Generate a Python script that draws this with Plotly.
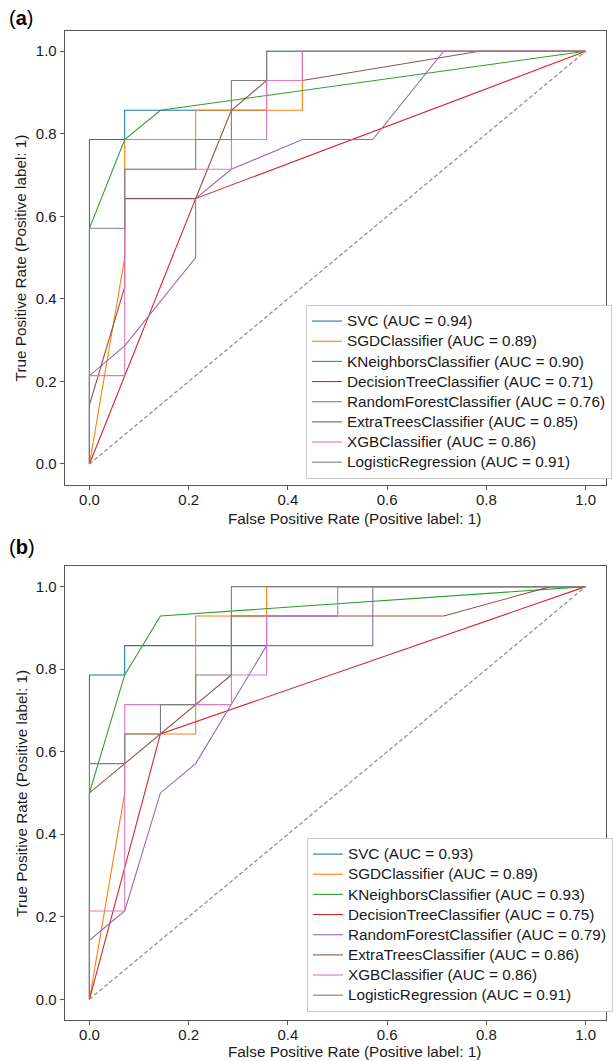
import plotly.graph_objects as go

FONT = "Liberation Sans, Arial, Helvetica, sans-serif"

models = ["SVC", "SGDClassifier", "KNeighborsClassifier", "DecisionTreeClassifier",
          "RandomForestClassifier", "ExtraTreesClassifier", "XGBClassifier", "LogisticRegression"]
colors = ["#1f77b4", "#ff7f0e", "#2ca02c", "#d62728", "#9467bd", "#8c564b", "#e377c2", "#7f7f7f"]

auc_a = [0.94, 0.89, 0.90, 0.71, 0.76, 0.85, 0.86, 0.91]
auc_b = [0.93, 0.89, 0.93, 0.75, 0.79, 0.86, 0.86, 0.91]

# ---- panel (a) ----
svc_fpr_a = [0, 0, 0.071, 0.071, 0.357, 0.357, 1]
svc_tpr_a = [0, 0.786, 0.786, 0.857, 0.857, 1, 1]
sgd_fpr_a = [0, 0.071, 0.071, 0.214, 0.214, 0.429, 0.429, 1]
sgd_tpr_a = [0, 0.5, 0.786, 0.786, 0.857, 0.857, 1, 1]
knn_fpr_a = [0, 0, 0.071, 0.143, 1]
knn_tpr_a = [0, 0.571, 0.786, 0.857, 1]
dt_fpr_a = [0, 0.214, 1]
dt_tpr_a = [0, 0.643, 1]
rf_fpr_a = [0, 0, 0.071, 0.214, 0.214, 0.286, 0.429, 0.571, 0.714, 1]
rf_tpr_a = [0, 0.214, 0.286, 0.5, 0.643, 0.714, 0.786, 0.786, 1, 1]
et_fpr_a = [0, 0, 0.071, 0.071, 0.214, 0.286, 0.357, 0.429, 0.786, 1]
et_tpr_a = [0, 0.143, 0.429, 0.643, 0.643, 0.857, 0.929, 0.929, 1, 1]
xgb_fpr_a = [0, 0, 0.071, 0.071, 0.286, 0.286, 0.357, 0.357, 0.429, 0.429, 1]
xgb_tpr_a = [0, 0.214, 0.214, 0.714, 0.714, 0.786, 0.786, 0.929, 0.929, 1, 1]
lr_fpr_a = [0, 0, 0.071, 0.071, 0.214, 0.214, 0.286, 0.286, 0.357, 0.357, 1]
lr_tpr_a = [0, 0.571, 0.571, 0.714, 0.714, 0.786, 0.786, 0.929, 0.929, 1, 1]

# ---- panel (b) ----
svc_fpr_b = [0, 0, 0.071, 0.071, 0.357, 0.357, 0.5, 0.5, 1]
svc_tpr_b = [0, 0.786, 0.786, 0.857, 0.857, 0.929, 0.929, 1, 1]
sgd_fpr_b = [0, 0.071, 0.071, 0.214, 0.214, 0.357, 0.357, 1]
sgd_tpr_b = [0, 0.5, 0.643, 0.643, 0.929, 0.929, 1, 1]
knn_fpr_b = [0, 0, 0.071, 0.143, 1]
knn_tpr_b = [0, 0.5, 0.786, 0.929, 1]
dt_fpr_b = [0, 0.143, 1]
dt_tpr_b = [0, 0.643, 1]
rf_fpr_b = [0, 0, 0.071, 0.143, 0.214, 0.357, 0.571, 0.571, 1]
rf_tpr_b = [0, 0.143, 0.214, 0.5, 0.571, 0.857, 0.857, 1, 1]
et_fpr_b = [0, 0, 0.286, 0.286, 0.714, 0.929, 1]
et_tpr_b = [0, 0.5, 0.786, 0.929, 0.929, 1, 1]
xgb_fpr_b = [0, 0, 0.071, 0.071, 0.286, 0.286, 0.357, 0.357, 0.5, 0.5, 1]
xgb_tpr_b = [0, 0.214, 0.214, 0.714, 0.714, 0.786, 0.786, 0.929, 0.929, 1, 1]
lr_fpr_b = [0, 0, 0.071, 0.071, 0.143, 0.143, 0.214, 0.214, 0.286, 0.286, 1]
lr_tpr_b = [0, 0.571, 0.571, 0.643, 0.643, 0.714, 0.714, 0.786, 0.786, 1, 1]

chance_x = [0, 1]
chance_y = [0, 1]

tick_vals = [0.0, 0.2, 0.4, 0.6, 0.8, 1.0]
tick_text = ["0.0", "0.2", "0.4", "0.6", "0.8", "1.0"]

curves_a = [(svc_fpr_a, svc_tpr_a), (sgd_fpr_a, sgd_tpr_a), (knn_fpr_a, knn_tpr_a), (dt_fpr_a, dt_tpr_a),
            (rf_fpr_a, rf_tpr_a), (et_fpr_a, et_tpr_a), (xgb_fpr_a, xgb_tpr_a), (lr_fpr_a, lr_tpr_a)]
curves_b = [(svc_fpr_b, svc_tpr_b), (sgd_fpr_b, sgd_tpr_b), (knn_fpr_b, knn_tpr_b), (dt_fpr_b, dt_tpr_b),
            (rf_fpr_b, rf_tpr_b), (et_fpr_b, et_tpr_b), (xgb_fpr_b, xgb_tpr_b), (lr_fpr_b, lr_tpr_b)]

LEG_TXT = 15.3  # rendered legend text size


def label(name, auc):
    return f'<span style="font-size:{LEG_TXT}px">{name} (AUC = {auc:.2f})</span>'


fig = go.Figure()

for (fx, ty), name, col, auc in zip(curves_a, models, colors, auc_a):
    fig.add_trace(go.Scatter(x=fx, y=ty, mode="lines", name=label(name, auc),
                             line=dict(color=col, width=1.1), xaxis="x", yaxis="y", legend="legend"))
fig.add_trace(go.Scatter(x=chance_x, y=chance_y, mode="lines", showlegend=False,
                         line=dict(color="#9c8e8a", width=1.3, dash="4px,2.5px"), xaxis="x", yaxis="y"))

for (fx, ty), name, col, auc in zip(curves_b, models, colors, auc_b):
    fig.add_trace(go.Scatter(x=fx, y=ty, mode="lines", name=label(name, auc),
                             line=dict(color=col, width=1.1), xaxis="x2", yaxis="y2", legend="legend2"))
fig.add_trace(go.Scatter(x=chance_x, y=chance_y, mode="lines", showlegend=False,
                         line=dict(color="#9c8e8a", width=1.3, dash="4px,2.5px"), xaxis="x2", yaxis="y2"))

W, H = 613, 1061
XDOM = [65.3 / W, 612 / W]
YDOM_A = [1 - 484.6 / H, 1 - 30.6 / H]
YDOM_B = [1 - 1019.9 / H, 1 - 566 / H]

axis_common = dict(
    showline=True, mirror=True, linecolor="#555555", linewidth=1,
    ticks="outside", ticklen=4, tickwidth=1, tickcolor="#555555",
    showgrid=False, zeroline=False, automargin=False,
    tickvals=tick_vals, ticktext=tick_text,
    tickfont=dict(family=FONT, size=15, color="#1a1a1a"),
)

legend_common = dict(
    xanchor="left", yanchor="top", bgcolor="white",
    bordercolor="#cccccc", borderwidth=1,
    font=dict(family=FONT, size=13.2, color="#1a1a1a"),
    itemwidth=30, tracegroupgap=0,
)

fig.update_layout(
    width=W, height=H,
    margin=dict(l=0, r=0, t=0, b=0),
    paper_bgcolor="white", plot_bgcolor="white",
    font=dict(family=FONT, size=15, color="#1a1a1a"),
    xaxis=dict(domain=XDOM, range=[-0.05, 1.041], anchor="y", ticklabelstandoff=-3, **axis_common),
    yaxis=dict(domain=YDOM_A, range=[-0.05, 1.05], anchor="x", **axis_common),
    xaxis2=dict(domain=XDOM, range=[-0.05, 1.041], anchor="y2", ticklabelstandoff=-3, **axis_common),
    yaxis2=dict(domain=YDOM_B, range=[-0.05, 1.05], anchor="x2", **axis_common),
    legend=dict(x=309 / W, y=1 - 305 / H, **legend_common),
    legend2=dict(x=310 / W, y=1 - 838 / H, **legend_common),
    annotations=[
        dict(text="(<b>a</b>)", x=7 / W, y=1 - 18 / H, xref="paper", yref="paper",
             xanchor="left", yanchor="middle", showarrow=False, font=dict(family=FONT, size=20, color="#000")),
        dict(text="(<b>b</b>)", x=7 / W, y=1 - 547 / H, xref="paper", yref="paper",
             xanchor="left", yanchor="middle", showarrow=False, font=dict(family=FONT, size=20, color="#000")),
        dict(text="False Positive Rate (Positive label: 1)", x=357.5 / W, y=1 - 518.5 / H,
             xref="paper", yref="paper", xanchor="center", yanchor="middle", showarrow=False,
             font=dict(family=FONT, size=15.3, color="#1a1a1a")),
        dict(text="False Positive Rate (Positive label: 1)", x=357.5 / W, y=1 - 1051 / H,
             xref="paper", yref="paper", xanchor="center", yanchor="middle", showarrow=False,
             font=dict(family=FONT, size=15.3, color="#1a1a1a")),
        dict(text="True Positive Rate (Positive label: 1)", x=21 / W, y=1 - 257.6 / H,
             xref="paper", yref="paper", xanchor="center", yanchor="middle", showarrow=False,
             textangle=-90, font=dict(family=FONT, size=15.3, color="#1a1a1a")),
        dict(text="True Positive Rate (Positive label: 1)", x=21 / W, y=1 - 793 / H,
             xref="paper", yref="paper", xanchor="center", yanchor="middle", showarrow=False,
             textangle=-90, font=dict(family=FONT, size=15.3, color="#1a1a1a")),
    ],
)

fig.write_html(
    "out.html",
    config={"displayModeBar": False},
    post_script="document.body.style.margin='0px';document.body.style.overflow='hidden';",
)
